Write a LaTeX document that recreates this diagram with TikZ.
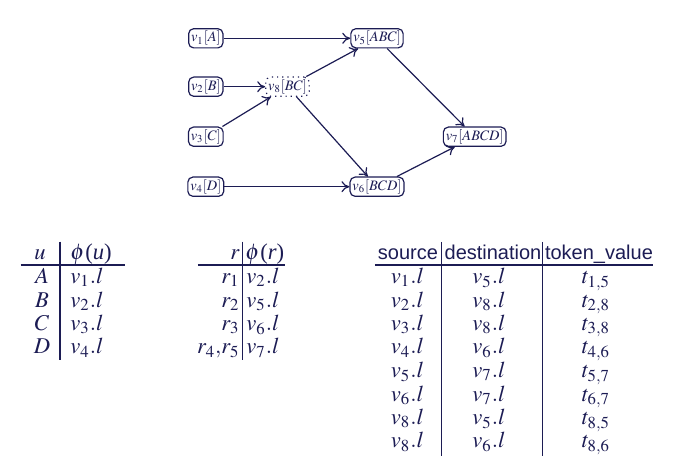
\documentclass[tikz,border=0pt]{standalone}
\usepackage{mathptmx}
\usepackage{fontspec}
\setmainfont{Liberation Serif}
\setsansfont{Liberation Sans}
\usetikzlibrary{arrows.meta}
\definecolor{ink}{RGB}{28,28,84}
\newcommand{\phiof}[1]{$\phi$\kern0.3pt(\textit{#1})}
\begin{document}
\begin{tikzpicture}[x=0.5pt,y=-0.5pt,
  every node/.style={text=ink},
  gnode/.style={draw=ink, line width=0.6pt, rounded corners=2.5pt, inner sep=1.2pt,
    minimum height=8.3pt, font=\fontsize{7.2}{8}\selectfont},
  dnode/.style={gnode, dotted},
  edge/.style={draw=ink, line width=0.6pt, -{To[length=4pt,width=5.5pt]}},
  rule/.style={draw=ink, line width=0.6pt},
  cell/.style={font=\fontsize{11.3}{13}\selectfont, inner sep=0pt, anchor=base},
  hcell/.style={font=\sffamily\fontsize{10}{12}\selectfont, inner sep=0pt, anchor=base}]
\useasboundingbox (0,0) rectangle (677,466);

% ---- graph ----
\node[gnode] (v1) at (205.8,38.3) {$v_1[A]$};
\node[gnode] (v2) at (205.8,86.7) {$v_2[B]$};
\node[gnode] (v3) at (205.8,136.7) {$v_3[C]$};
\node[gnode] (v4) at (205.8,186.7) {$v_4[D]$};
\node[dnode] (v8) at (287.5,86.7) {$v_8[BC]$};
\node[gnode] (v5) at (377,38.3) {$v_5[ABC]$};
\node[gnode] (v6) at (377,186.7) {$v_6[BCD]$};
\node[gnode] (v7) at (474.7,136.7) {$v_7[ABCD]$};

\draw[edge] (v1) -- (v5);
\draw[edge] (v2) -- (v8);
\draw[edge] (v3) -- (v8);
\draw[edge] (v8) -- (v5);
\draw[edge] (v8) -- (v6);
\draw[edge] (v4) -- (v6);
\draw[edge] (v5) -- (v7);
\draw[edge] (v6) -- (v7);

% ---- table 1 ----
\node[cell] (a0) at (40,260) {$u$};
\node[cell, anchor=base west] (b0) at (70,260) {\phiof{u}};
\foreach \l/\v [count=\i] in {A/1,B/2,C/3,D/4}{
  \node[cell] (a\i) at (42,{283.5+23.5*(\i-1)}) {$\l$};
  \node[cell, anchor=base west] (b\i) at (70,{283.5+23.5*(\i-1)}) {$v_{\v}.l$};
}
\draw[rule] (20.7,265) -- (125.3,265);
\draw[rule] (60,241.7) -- (60,360);

% ---- table 2 ----
\node[cell, anchor=base east] (c0) at (240,260) {$r$};
\node[cell, anchor=base west] (d0) at (245,260) {\phiof{r}};
\foreach \r/\v [count=\i] in {{r_1}/2,{r_2}/5,{r_3}/6,{r_4{,}r_5}/7}{
  \node[cell, anchor=base east] (c\i) at (240,{283.5+23.5*(\i-1)}) {$\r$};
  \node[cell, anchor=base west] (d\i) at (246,{283.5+23.5*(\i-1)}) {$v_{\v}.l$};
}
\draw[rule] (198,265) -- (285,265);
\draw[rule] (242.8,241.7) -- (242.8,360);

% ---- table 3 ----
\node[hcell] (s0) at (408,260) {source};
\node[hcell] (e0) at (493,260) {destination};
\node[hcell] (k0) at (599,260) {token\_value};
\foreach \s/\d/\t [count=\i] in {1/5/{1{,}5},2/8/{2{,}8},3/8/{3{,}8},4/6/{4{,}6},5/7/{5{,}7},6/7/{6{,}7},8/5/{8{,}5},8/6/{8{,}6}}{
  \node[cell] (s\i) at (407.5,{283.5+23.5*(\i-1)}) {$v_{\s}.l$};
  \node[cell] (e\i) at (489,{283.5+23.5*(\i-1)}) {$v_{\d}.l$};
  \node[cell] (k\i) at (596,{283.5+23.5*(\i-1)}) {$t_{\t}$};
}
\draw[rule] (375,265) -- (653,265);
\draw[rule] (441.2,242) -- (441.2,456);
\draw[rule] (542.2,242) -- (542.2,456);
\end{tikzpicture}
\end{document}
